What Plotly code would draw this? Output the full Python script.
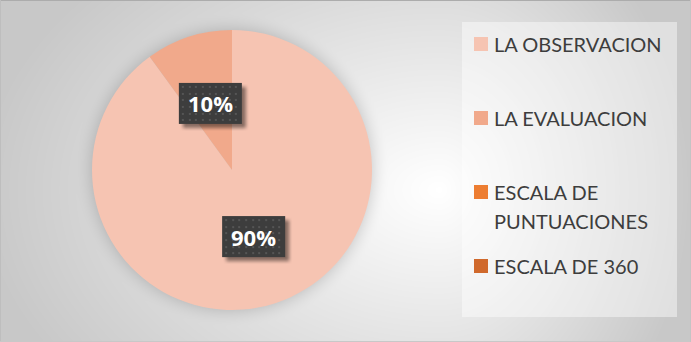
import base64
import struct
import zlib
import textwrap

import numpy as np
import plotly.graph_objects as go

# ---- data -------------------------------------------------------------
categories = ["LA OBSERVACION", "LA EVALUACION", "ESCALA DE PUNTUACIONES", "ESCALA DE 360"]
values = [90, 10, 0, 0]
colors = ["#F6C4B2", "#F1A98B", "#ED7D31", "#D0692C"]

# ---- canvas / geometry ------------------------------------------------
W, H = 691, 342
PIE_X = (92, 372)      # pie domain in pixels (left, right)
PIE_Y = (30, 310)      # pie domain in pixels (top, bottom)
PCX = (PIE_X[0] + PIE_X[1]) / 2
PCY = (PIE_Y[0] + PIE_Y[1]) / 2
PR = (PIE_X[1] - PIE_X[0]) / 2


def png_uri(arr):
    """Encode a uint8 RGB/RGBA array as a PNG data URI."""
    arr = np.ascontiguousarray(arr, dtype=np.uint8)
    h, w, ch = arr.shape
    ctype = 6 if ch == 4 else 2
    raw = b"".join(b"\x00" + arr[r].tobytes() for r in range(h))

    def chunk(tag, data):
        c = struct.pack(">I", len(data)) + tag + data
        return c + struct.pack(">I", zlib.crc32(tag + data) & 0xFFFFFFFF)

    png = b"\x89PNG\r\n\x1a\n"
    png += chunk(b"IHDR", struct.pack(">IIBBBBB", w, h, 8, ctype, 0, 0, 0))
    png += chunk(b"IDAT", zlib.compress(raw, 9))
    png += chunk(b"IEND", b"")
    return "data:image/png;base64," + base64.b64encode(png).decode()


def box_blur(a, r):
    k = np.ones(2 * r + 1) / (2 * r + 1)
    a = np.apply_along_axis(lambda v: np.convolve(v, k, mode="same"), 0, a)
    a = np.apply_along_axis(lambda v: np.convolve(v, k, mode="same"), 1, a)
    return a


# ---- chart background: soft grey radial gradient + pie glow -----------
yy, xx = np.mgrid[0:H, 0:W] + 0.5
gcx, gcy = 440.0, 190.0
rx = np.where(xx < gcx, 460.0, 250.0)
t = np.sqrt(((xx - gcx) / rx) ** 2 + ((yy - gcy) / 308.0) ** 2)
g = 255.0 - 55.0 * np.clip(t, 0, 1)
d = np.hypot(xx - PCX, yy - PCY)
glow = 0.10 * np.clip(1 - (d - PR) / 18.0, 0, 1) ** 2
g = g * (1 - glow)
g[0, :] = 172
g[:, 0] = 190
g[-1, :] = 200
g[:, -1] = 196
bg = np.repeat(g[:, :, None], 3, axis=2).round().astype(np.uint8)

# ---- dark label tile with dotted texture and drop shadow --------------
BW, BH, SH = 63, 41, 8


def label_tile():
    th, tw = BH + SH, BW + SH
    mask = np.zeros((th, tw))
    mask[4:4 + BH, 4:4 + BW] = 1.0
    shadow = box_blur(box_blur(mask, 2), 1) * 0.45
    rgba = np.zeros((th, tw, 4))
    rgba[..., :3] = 0
    rgba[..., 3] = shadow * 255
    box = np.full((BH, BW, 3), 0x3D, dtype=float)
    for yy0 in np.arange(3, BH - 1, 6.67):
        for xx0 in np.arange(3, BW - 1, 6.67):
            yi, xi = int(round(yy0)), int(round(xx0))
            box[yi:yi + 2, xi:xi + 2] = 0x55
    rgba[:BH, :BW, :3] = box
    rgba[:BH, :BW, 3] = 255
    return png_uri(np.clip(rgba, 0, 255).round())


tile_uri = label_tile()

fig = go.Figure()
fig.add_trace(go.Pie(
    labels=categories,
    values=values,
    marker=dict(colors=colors, line=dict(width=0)),
    sort=False,
    direction="clockwise",
    rotation=0,
    textinfo="none",
    hoverinfo="label+percent",
    showlegend=False,
    domain=dict(x=[PIE_X[0] / W, PIE_X[1] / W],
                y=[1 - PIE_Y[1] / H, 1 - PIE_Y[0] / H]),
))

images = [dict(source=png_uri(bg), xref="paper", yref="paper", x=0, y=1,
               sizex=1, sizey=1, xanchor="left", yanchor="top",
               sizing="stretch", layer="below")]
annotations = []
shapes = []

# percentage labels at half radius along each slice's middle angle
total = sum(values)
cum = 0.0
for v in values:
    if v > 0:
        mid = np.deg2rad((cum + v / 2) / total * 360)
        lx = PCX + 0.5 * PR * np.sin(mid)
        ly = PCY - 0.5 * PR * np.cos(mid)
        images.append(dict(source=tile_uri, xref="paper", yref="paper",
                           x=(lx - BW / 2) / W, y=1 - (ly - BH / 2) / H,
                           sizex=(BW + SH) / W, sizey=(BH + SH) / H,
                           xanchor="left", yanchor="top",
                           sizing="stretch", layer="above"))
        annotations.append(dict(
            x=lx / W, y=1 - ly / H, xref="paper", yref="paper",
            text=f"{v / total:.0%}", showarrow=False,
            xanchor="center", yanchor="middle",
            font=dict(family="Open Sans", size=22, color="white", weight="bold"),
        ))
    cum += v

# legend panel
LEG = dict(x0=462, x1=677, y0=22, y1=317)
shapes.append(dict(type="rect", xref="paper", yref="paper",
                   x0=LEG["x0"] / W, x1=LEG["x1"] / W,
                   y0=1 - LEG["y1"] / H, y1=1 - LEG["y0"] / H,
                   fillcolor="rgba(255,255,255,0.44)", line=dict(width=0),
                   layer="below"))

ROW0, ROW_STEP, LINE_STEP, SQ = 44, 74, 29, 14
for i, (name, col) in enumerate(zip(categories, colors)):
    cy = ROW0 + i * ROW_STEP
    shapes.append(dict(type="rect", xref="paper", yref="paper",
                       x0=474 / W, x1=(474 + SQ) / W,
                       y0=1 - (cy + SQ / 2) / H, y1=1 - (cy - SQ / 2) / H,
                       fillcolor=col, line=dict(width=0), layer="below"))
    for j, line in enumerate(textwrap.wrap(name, 14)):
        annotations.append(dict(
            x=492 / W, y=1 - (cy + j * LINE_STEP) / H,
            xref="paper", yref="paper", text=line, showarrow=False,
            xanchor="left", yanchor="middle",
            font=dict(family="Lato", size=20, color="#3d3d3d"),
        ))

fig.update_layout(
    width=W, height=H,
    margin=dict(l=0, r=0, t=0, b=0),
    paper_bgcolor="#d9d9d9",
    images=images,
    annotations=annotations,
    shapes=shapes,
    showlegend=False,
)

fig.write_html("out.html")
